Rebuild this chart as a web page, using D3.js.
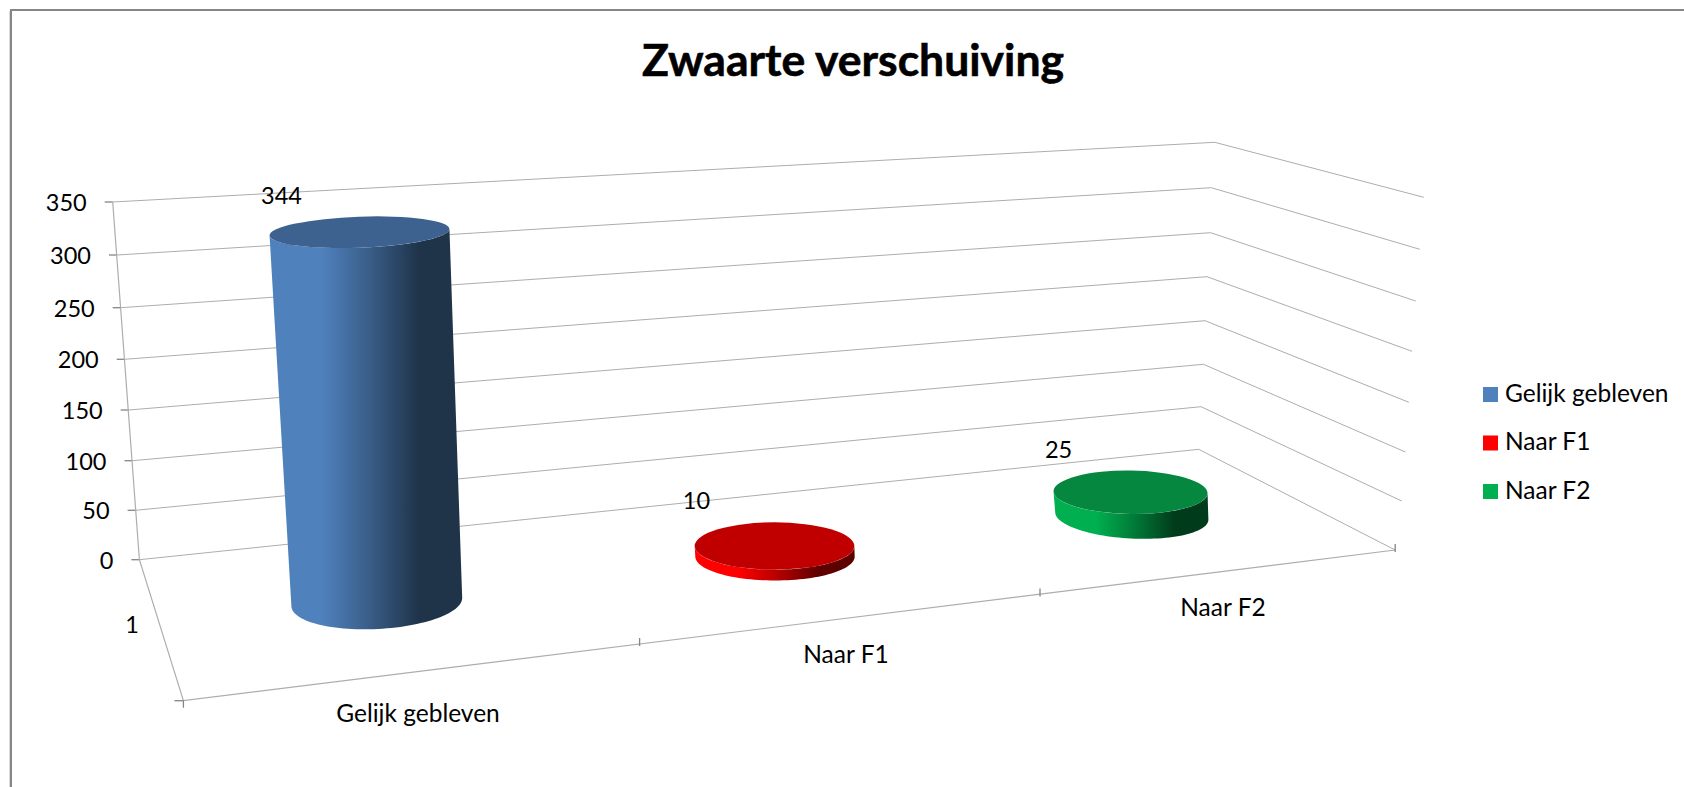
<!DOCTYPE html>
<html><head><meta charset="utf-8">
<script src="https://cdnjs.cloudflare.com/ajax/libs/d3/7.8.5/d3.min.js"></script>
<style>html,body{margin:0;padding:0;background:#fff}svg{display:block}text{font-family:Lato,"Open Sans",sans-serif;fill:#000}</style>
</head><body><svg id="c" width="1684" height="787"></svg>
<script>
const title = "Zwaarte verschuiving";
const categories = ["Gelijk gebleven", "Naar F1", "Naar F2"];
const values = [344, 10, 25];
const yTicks = [0, 50, 100, 150, 200, 250, 300, 350];
const depthLabel = "1";
const sideColors = [["#4F81BD", "#1F3349"], ["#FF0000", "#5C0000"], ["#00B050", "#003C1B"]];
const topColors = ["#3E6290", "#C00000", "#05873F"];
const legendColors = ["#4F81BD", "#FF0000", "#00B050"];

const svg = d3.select("#c");
// Projection of the 3D box on the page
const wallLeftX = d3.scaleLinear().domain(yTicks).range([139.4,135.6,132.5,128.7,124.7,120.7,117,112.7]);
const wallLeftY = d3.scaleLinear().domain(yTicks).range([559.7,510.3,460.7,410,359.3,307.7,255,202]);
const wallBackX = d3.scaleLinear().domain(yTicks).range([1198.7,1201,1203.5,1205,1207,1210.6,1211.3,1214.7]);
const wallBackY = d3.scaleLinear().domain(yTicks).range([449.3,406.7,364.3,320.7,276.7,232.7,187.7,142.3]);
const wallRightX = d3.scaleLinear().domain(yTicks).range([1395.2,1401.7,1405.4,1408.9,1412,1415.7,1419.8,1423.8]);
const wallRightY = d3.scaleLinear().domain(yTicks).range([550,501,452,402.3,351.3,301,249.3,197.3]);
const edgeX = d3.scaleLinear().domain([0,1,2,3]).range([183.4,639.6,1040,1395.2]);
const edgeY = d3.scaleLinear().domain([0,1,2,3]).range([700.7,644,594.5,550]);
// cylinder geometry per category position
const idx = [0,1,2];
const baseX = d3.scaleLinear().domain(idx).range([376.8,775,1131.8]);
const baseY = d3.scaleLinear().domain(idx).range([602,556.5,516]);
const unitPx = d3.scaleLinear().domain(idx).range([1.075,1.05,0.95]);
const baseRx = d3.scaleLinear().domain(idx).range([85.5,79.7,76.7]);
const topRxGrow = 4.5/344;
const baseRy = d3.scaleLinear().domain(idx).range([27,24,22.5]);
const ryShrink = 11.5/344;
const baseTilt = d3.scaleLinear().domain(idx).range([-3,0,3]);
const topTilt = d3.scaleLinear().domain(idx).range([-2.1,0,0.8]);
const topDX = d3.scaleLinear().domain([0,344]).range([0,-17.3]);
const labelDX = d3.scaleLinear().domain(idx).range([-78,-78,-72]);

const gridColor = "#adadad", tickColor = "#858585";
const numSize = 23.5, wordSize = 24.5;
const line = d3.line();
const strokeLine = (pts, c, w) => svg.append("path").attr("d", line(pts)).attr("fill","none").attr("stroke",c).attr("stroke-width",w);

// frame: only the top and left edges fall inside the picture
strokeLine([[1684,10],[11,10],[11,787]], "#868686", 2);
strokeLine([[9.5,11],[9.5,787]], "#d9d9d9", 1);

// title
svg.append("text").attr("x",853).attr("y",76).attr("text-anchor","middle")
  .attr("font-size",44.5).attr("font-weight",700).attr("stroke","#000").attr("stroke-width",0.6).text(title);

// gridlines
yTicks.forEach(v => {
  strokeLine([[wallLeftX(v),wallLeftY(v)],[wallBackX(v),wallBackY(v)],[wallRightX(v),wallRightY(v)]], gridColor, 1);
  strokeLine([[wallLeftX(v)-8,wallLeftY(v)],[wallLeftX(v),wallLeftY(v)]], tickColor, 1.3);
  svg.append("text").attr("x",wallLeftX(v)-26).attr("y",wallLeftY(v)+3).attr("text-anchor","end")
    .attr("dominant-baseline","middle").attr("font-size",numSize).text(v);
});
strokeLine([[wallLeftX(350),wallLeftY(350)],[wallLeftX(0),wallLeftY(0)],[edgeX(0),edgeY(0)],[edgeX(3),edgeY(3)]], gridColor, 1.2);
strokeLine([[edgeX(0)-9,edgeY(0)],[edgeX(0),edgeY(0)]], tickColor, 1.3);
d3.range(4).forEach(i => strokeLine([[edgeX(i),edgeY(i)-(i?6:0)],[edgeX(i),edgeY(i)+(i?2:7)]], tickColor, 1.3));
svg.append("text").attr("x",132).attr("y",627).attr("text-anchor","middle").attr("dominant-baseline","middle").attr("font-size",numSize).text(depthLabel);

// category labels
const catLabelX = d3.scaleLinear().domain(idx).range([418,846,1223]);
const catLabelY = d3.scaleLinear().domain(idx).range([716,657,610]);
categories.forEach((c,i) => svg.append("text").attr("x",catLabelX(i)).attr("y",catLabelY(i))
  .attr("text-anchor","middle").attr("dominant-baseline","middle").attr("font-size",wordSize).text(c));

// cylinders
const defs = svg.append("defs");
function ell(cx,cy,rx,ry,deg,a){
  const t = deg*Math.PI/180;
  const ex = rx*Math.cos(a), ey = ry*Math.sin(a);
  return [cx+ex*Math.cos(t)-ey*Math.sin(t), cy+ex*Math.sin(t)+ey*Math.cos(t)];
}
values.forEach((v,i) => {
  const g = defs.append("linearGradient").attr("id","g"+i).attr("x1",0).attr("x2",1).attr("y1",0).attr("y2",0);
  const interp = d3.interpolateRgb(sideColors[i][0], sideColors[i][1]);
  [[0,0],[0.27,0],[0.5,0.42],[0.78,1],[1,1]].forEach(([o,m]) => g.append("stop").attr("offset",o).attr("stop-color",interp(m)));
  const bx = baseX(i), by = baseY(i), brx = baseRx(i), bry = baseRy(i);
  const tx = bx + topDX(v), ty = by - unitPx(i)*v, trx = brx + topRxGrow*v, tryy = bry - ryShrink*v;
  const angles = d3.range(0,181,3).map(d => d*Math.PI/180);
  const front = angles.map(a => ell(bx,by,brx,bry,baseTilt(i),a));
  const topBack = angles.map(a => ell(tx,ty,trx,tryy,topTilt(i),Math.PI - a));
  svg.append("path").attr("d", line(front.concat(topBack)) + "Z").attr("fill",`url(#g${i})`);
  svg.append("ellipse").attr("cx",tx).attr("cy",ty).attr("rx",trx).attr("ry",tryy)
    .attr("transform",`rotate(${topTilt(i)} ${tx} ${ty})`).attr("fill",topColors[i]);
  svg.append("text").attr("x",tx+labelDX(i)).attr("y",ty-tryy-19).attr("text-anchor","middle")
    .attr("dominant-baseline","middle").attr("font-size",numSize).text(v);
});

// legend
const legendY = d3.scalePoint().domain(categories).range([394.5,491.5]);
categories.forEach((c,i) => {
  svg.append("rect").attr("x",1483).attr("y",legendY(c)-7.5).attr("width",15).attr("height",15).attr("fill",legendColors[i]);
  svg.append("text").attr("x",1505).attr("y",legendY(c)+1).attr("dominant-baseline","middle").attr("font-size",wordSize).text(c);
});
</script></body></html>
